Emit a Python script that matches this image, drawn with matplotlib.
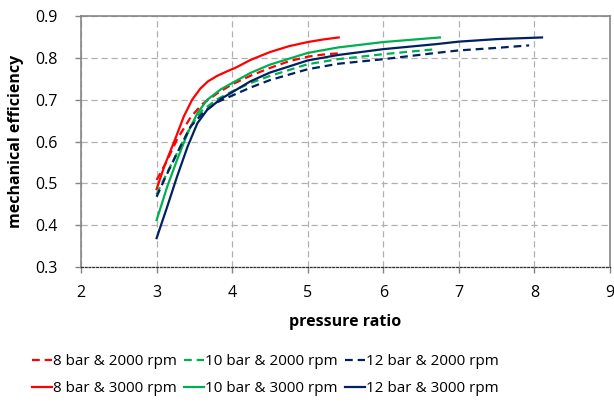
import numpy as np
import matplotlib.pyplot as plt

plt.rcParams['font.family'] = ['Open Sans', 'DejaVu Sans']

# pressure ratio / mechanical efficiency
pr_8_2000 = [3.0, 3.12, 3.27, 3.45, 3.60, 3.80, 4.0, 4.25, 4.5, 4.75, 5.0, 5.2, 5.40]
eta_8_2000 = [0.508, 0.548, 0.605, 0.658, 0.689, 0.715, 0.737, 0.758, 0.776, 0.792, 0.803, 0.808, 0.811]

pr_8_3000 = [3.0, 3.10, 3.25, 3.36, 3.47, 3.58, 3.68, 3.80, 3.92, 4.05, 4.24, 4.5, 4.75, 5.0, 5.2, 5.41]
eta_8_3000 = [0.486, 0.540, 0.608, 0.660, 0.700, 0.727, 0.744, 0.757, 0.767, 0.777, 0.795, 0.814, 0.828, 0.838, 0.844, 0.849]

pr_10_2000 = [3.0, 3.14, 3.32, 3.45, 3.60, 3.80, 4.0, 4.24, 4.5, 5.0, 5.4, 6.0, 6.70]
eta_10_2000 = [0.474, 0.526, 0.590, 0.636, 0.674, 0.701, 0.720, 0.740, 0.757, 0.785, 0.797, 0.809, 0.821]

pr_10_3000 = [3.0, 3.14, 3.27, 3.41, 3.54, 3.67, 3.85, 4.0, 4.24, 4.5, 5.0, 5.4, 6.0, 6.75]
eta_10_3000 = [0.412, 0.492, 0.556, 0.620, 0.668, 0.700, 0.725, 0.740, 0.764, 0.784, 0.812, 0.825, 0.838, 0.849]

pr_12_2000 = [3.0, 3.12, 3.27, 3.45, 3.63, 3.80, 4.0, 4.24, 4.5, 5.0, 5.4, 6.0, 6.7, 7.0, 7.5, 7.93]
eta_12_2000 = [0.468, 0.516, 0.572, 0.636, 0.672, 0.694, 0.710, 0.729, 0.747, 0.773, 0.786, 0.797, 0.812, 0.818, 0.824, 0.830]

pr_12_3000 = [3.0, 3.14, 3.27, 3.41, 3.54, 3.67, 3.85, 4.0, 4.24, 4.5, 5.0, 5.4, 6.0, 6.7, 7.0, 7.5, 8.10]
eta_12_3000 = [0.369, 0.444, 0.516, 0.588, 0.644, 0.676, 0.702, 0.718, 0.744, 0.765, 0.794, 0.807, 0.821, 0.833, 0.839, 0.845, 0.849]

red = '#FF0000'
green = '#00B050'
navy = '#002060'
dash = (0, (3.5, 2.2))

fig = plt.figure(figsize=(6.14, 4.03), dpi=100)
ax = fig.add_axes([0.132, 0.3375, 0.8615, 0.6225])

ax.plot(pr_8_2000, eta_8_2000, color=red, lw=1.6, ls=dash, label='8 bar & 2000 rpm')
ax.plot(pr_8_3000, eta_8_3000, color=red, lw=1.6, label='8 bar & 3000 rpm')
ax.plot(pr_10_2000, eta_10_2000, color=green, lw=1.6, ls=dash, label='10 bar & 2000 rpm')
ax.plot(pr_10_3000, eta_10_3000, color=green, lw=1.6, label='10 bar & 3000 rpm')
ax.plot(pr_12_2000, eta_12_2000, color=navy, lw=1.6, ls=dash, label='12 bar & 2000 rpm')
ax.plot(pr_12_3000, eta_12_3000, color=navy, lw=1.6, label='12 bar & 3000 rpm')

ax.set_xlim(2, 9)
ax.set_ylim(0.3, 0.9)
ax.set_xticks(range(2, 10))
ax.set_yticks([0.3, 0.4, 0.5, 0.6, 0.7, 0.8, 0.9])
ax.set_yticklabels(['0.3', '0.4', '0.5', '0.6', '0.7', '0.8', '0.9'])
ax.grid(True, color='#B0B0B0', ls=(0, (5, 3)), lw=0.9)
ax.set_axisbelow(True)

for side in ['left', 'top', 'right']:
    ax.spines[side].set_color('#858585')
    ax.spines[side].set_linewidth(1.2)
ax.spines['bottom'].set_color('#303030')
ax.spines['bottom'].set_linestyle((0, (1.5, 1.5)))
ax.spines['bottom'].set_linewidth(0.9)
ax.tick_params(direction='out', length=4, width=1, color='#858585', labelsize=11.5)
ax.tick_params(axis='x', pad=9)
ax.tick_params(axis='y', pad=13)

ax.set_xlabel('pressure ratio', fontsize=11.5, fontweight='bold', labelpad=9)
ax.set_ylabel('mechanical efficiency', fontsize=11.5, fontweight='bold', labelpad=8)

fig.legend(loc='center', bbox_to_anchor=(0.432, 0.069), ncol=3, frameon=False,
           fontsize=11, handlelength=1.3, handletextpad=0.1, columnspacing=0.45,
           labelspacing=0.75)

fig.savefig('out.png', dpi=100)
